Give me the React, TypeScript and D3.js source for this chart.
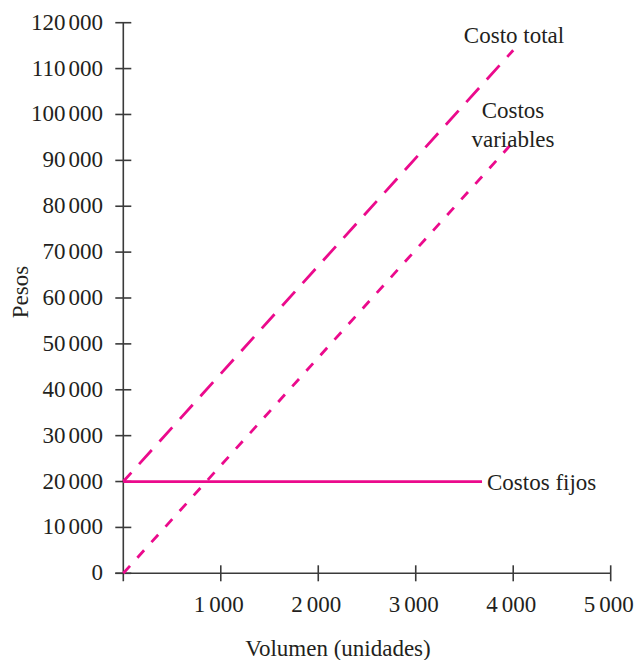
import React from "react";
import * as d3 from "d3";

// Data
const volumen = [0, 4000];
const costoTotal = [20000, 114000];
const costosVariables = [0, 94000];
const volumenFijos = [0, 3680];
const costosFijos = [20000, 20000];

const xTicks = [1000, 2000, 3000, 4000, 5000];
const xTickLabels = ["1 000", "2 000", "3 000", "4 000", "5 000"];
const yTicks = [0, 10000, 20000, 30000, 40000, 50000, 60000, 70000, 80000, 90000, 100000, 110000, 120000];
const yTickLabels = ["0", "10 000", "20 000", "30 000", "40 000", "50 000", "60 000", "70 000", "80 000", "90 000", "100 000", "110 000", "120 000"];

const W = 638;
const H = 660;
const MAGENTA = "#eb0a8c";
const AXIS = "#3a3a3a";
const TEXT = "#231f20";
const FONT = '"Liberation Serif", "Times New Roman", Times, serif';

const x = d3.scaleLinear().domain([0, 5000]).range([123.3, 610.7]);
const y = d3.scaleLinear().domain([0, 120000]).range([573.3, 22.7]);

const line = d3
  .line<[number, number]>()
  .x((d) => x(d[0]))
  .y((d) => y(d[1]));

function zip(a: number[], b: number[]): [number, number][] {
  return a.map((v, i) => [v, b[i]] as [number, number]);
}

function Num({ label, gap, ...rest }: any) {
  const parts = label.split(" ");
  return (
    <text {...rest}>
      {parts.map((p: string, i: number) => (
        <tspan key={i} dx={i > 0 ? gap : 0}>
          {p}
        </tspan>
      ))}
    </text>
  );
}

export default function App() {
  const tick = 8;
  return (
    <svg
      width={W}
      height={H}
      style={{ position: "absolute", left: 0, top: 0, background: "#fff", fontFamily: FONT, fontSize: "23px" }}
      fill={TEXT}
    >
      {/* axes */}
      <line x1={x(0)} x2={x(0)} y1={y(120000)} y2={y(0) + tick} stroke={AXIS} strokeWidth={1.6} />
      <line x1={x(0) - tick} x2={x(5000)} y1={y(0)} y2={y(0)} stroke={AXIS} strokeWidth={1.6} />
      {yTicks.map((t, i) => (
        <g key={"y" + t}>
          <line x1={x(0) - tick} x2={x(0) + tick} y1={y(t)} y2={y(t)} stroke={AXIS} strokeWidth={1.6} />
          <Num label={yTickLabels[i]} gap={3} x={103} y={y(t) + 7} textAnchor="end" />
        </g>
      ))}
      {xTicks.map((t, i) => (
        <g key={"x" + t}>
          <line x1={x(t)} x2={x(t)} y1={y(0) - tick} y2={y(0) + tick} stroke={AXIS} strokeWidth={1.6} />
          <Num label={xTickLabels[i]} gap={4} x={x(t) - 2} y={612} textAnchor="middle" />
        </g>
      ))}

      {/* axis titles */}
      <text x={338} y={656} textAnchor="middle">
        Volumen (unidades)
      </text>
      <text transform="translate(28,292) rotate(-90)" textAnchor="middle">
        Pesos
      </text>

      {/* series */}
      <path d={line(zip(volumenFijos, costosFijos)) || ""} fill="none" stroke={MAGENTA} strokeWidth={2.8} />
      <path
        d={line(zip(volumen, costosVariables)) || ""}
        fill="none"
        stroke={MAGENTA}
        strokeWidth={2.8}
        strokeDasharray="10 11"
      />
      <path
        d={line(zip(volumen, costoTotal)) || ""}
        fill="none"
        stroke={MAGENTA}
        strokeWidth={2.8}
        strokeDasharray="19 11.5"
        strokeDashoffset={7}
      />

      {/* labels */}
      <text x={514} y={43} textAnchor="middle">
        Costo total
      </text>
      <text x={513} y={118} textAnchor="middle">
        Costos
      </text>
      <text x={513} y={147} textAnchor="middle">
        variables
      </text>
      <text x={487} y={490}>
        Costos fijos
      </text>
    </svg>
  );
}
